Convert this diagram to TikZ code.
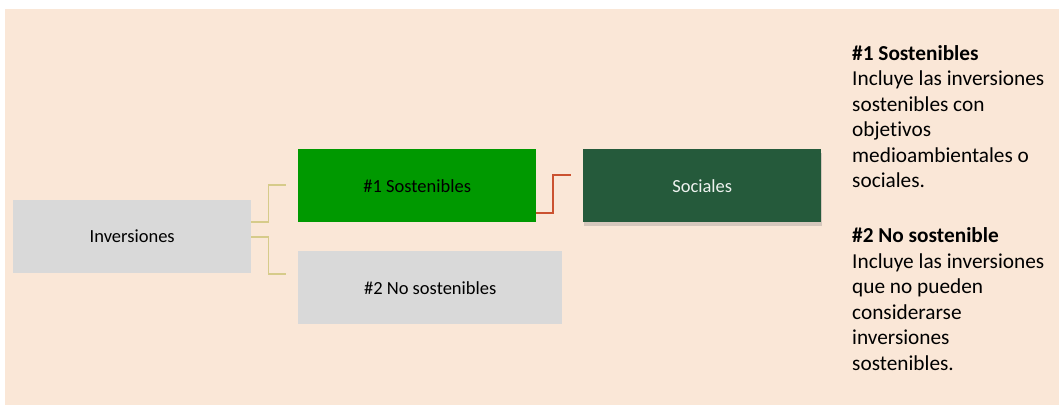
\documentclass[tikz,border=0pt]{standalone}
\usepackage{fontspec}
\setmainfont{Carlito}[Ligatures=NoCommon]
\usepackage{tikz}
\usetikzlibrary{positioning,shadows}

\definecolor{peach}{RGB}{250,231,215}
\definecolor{boxgray}{RGB}{217,217,217}
\definecolor{sostgreen}{RGB}{0,153,0}
\definecolor{socgreen}{RGB}{37,90,59}
\definecolor{khaki}{RGB}{214,203,138}
\definecolor{rust}{RGB}{203,82,48}

\begin{document}
\begin{tikzpicture}[x=1pt,y=-1pt,
  box/.style={anchor=north west, inner sep=0pt, minimum width=238pt,
    minimum height=73pt, font=\fontsize{18.5}{22}\selectfont},
  link/.style={draw=khaki, line width=1.6pt},
  redlink/.style={draw=rust, line width=2pt}]

  % background
  \useasboundingbox (0,0) rectangle (1062,406);
  \fill[peach] (5,9) rectangle (1059,405);

  % boxes
  \node[box, fill=boxgray] (inv) at (13,200) {Inversiones};
  \node[box, fill=sostgreen] (sost) at (298,149) {\#1 Sostenibles};
  \node[box, fill=boxgray, minimum width=264pt] (nosost) at (298,251) {\#2 No sostenibles};
  \node[box, fill=socgreen, text=white!92!socgreen,
    drop shadow={shadow xshift=1pt, shadow yshift=-4pt, opacity=0.3}] (soc) at (583,149) {Sociales};

  % connectors
  \coordinate (c1) at (286,185);
  \coordinate (c2) at (286,274);
  \coordinate (c3) at (571,175);
  \draw[link] ([yshift=14.5pt]inv.east) -- ++(17,0) |- (c1);
  \draw[link] (inv.east) -- ++(17,0) |- (c2);
  \draw[redlink] ([yshift=9pt]sost.south east) -- ++(17,0) |- (c3);

  % notes
  \node[anchor=north west, inner sep=0pt, align=left,
    font=\fontsize{21.3}{25.5}\selectfont] (note) at (852,45)
    {\textbf{\#1 Sostenibles}\\
     Incluye las inversiones\\
     sostenibles con\\
     objetivos\\
     medioambientales o\\
     sociales.\\[29.5pt]
     \textbf{\#2 No sostenible}\\
     Incluye las inversiones\\
     que no pueden\\
     considerarse\\
     inversiones\\
     sostenibles.};
\end{tikzpicture}
\end{document}
